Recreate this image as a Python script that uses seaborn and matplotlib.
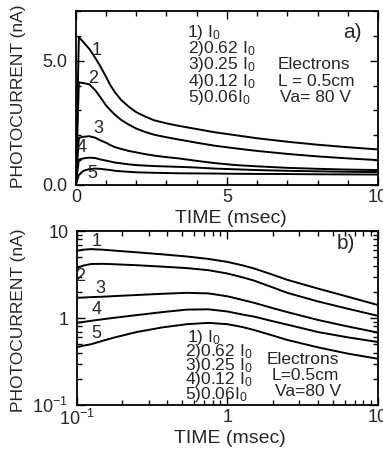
import matplotlib
matplotlib.use("Agg")
import matplotlib.pyplot as plt
from matplotlib import font_manager
from matplotlib.ticker import FixedLocator, FixedFormatter, MultipleLocator, LogLocator, NullFormatter
import seaborn as sns
import pandas as pd

# ---- panel a) linear time axis (msec) and photocurrents (nA) ----
t_lin = [0.0, 0.1, 0.25, 0.45, 0.65, 0.8, 1.0, 1.15, 1.3, 1.5, 1.75, 2.0, 2.3, 2.6,
         3.0, 3.4, 4.0, 4.6, 5.3, 6.0, 7.0, 8.0, 9.0, 10.0]
a_curve1 = [0.0, 5.95, 5.75, 5.47, 5.1, 4.8, 4.35, 4.0, 3.72, 3.42, 3.15, 2.93, 2.75, 2.6,
            2.48, 2.38, 2.25, 2.12, 2.0, 1.88, 1.74, 1.62, 1.52, 1.43]
a_curve2 = [0.0, 4.13, 4.1, 4.05, 3.8, 3.55, 3.2, 3.0, 2.82, 2.62, 2.43, 2.27, 2.13, 2.02,
            1.92, 1.83, 1.7, 1.58, 1.47, 1.37, 1.25, 1.15, 1.07, 1.0]
a_curve3 = [0.0, 1.9, 1.94, 1.96, 1.9, 1.8, 1.7, 1.6, 1.52, 1.45, 1.37, 1.31, 1.24, 1.18,
            1.12, 1.07, 0.97, 0.88, 0.8, 0.75, 0.69, 0.65, 0.62, 0.6]
a_curve4 = [0.0, 1.02, 1.07, 1.1, 1.08, 1.03, 0.98, 0.94, 0.9, 0.87, 0.83, 0.8, 0.78, 0.76,
            0.745, 0.73, 0.7, 0.66, 0.63, 0.6, 0.57, 0.55, 0.53, 0.52]
a_curve5 = [0.0, 0.4, 0.57, 0.64, 0.66, 0.65, 0.62, 0.6, 0.57, 0.55, 0.53, 0.51, 0.5, 0.49,
            0.48, 0.47, 0.465, 0.46, 0.45, 0.445, 0.44, 0.43, 0.425, 0.42]

# ---- panel b) log-log view ----
t_log = [0.1, 0.11, 0.125, 0.15, 0.18, 0.25, 0.37, 0.54, 0.75, 1.0, 1.25, 1.5, 2.0, 2.5,
         4.0, 6.3, 10.0]
b_curve1 = [5.93, 6.1, 6.2, 6.1, 5.95, 5.7, 5.4, 5.1, 4.78, 4.42, 4.05, 3.72, 3.15, 2.75,
            2.18, 1.76, 1.41]
b_curve2 = [3.73, 4.0, 4.18, 4.2, 4.15, 4.05, 3.9, 3.75, 3.55, 3.25, 2.95, 2.7, 2.25, 1.95,
            1.55, 1.28, 1.06]
b_curve3 = [1.71, 1.72, 1.74, 1.76, 1.79, 1.84, 1.9, 1.95, 1.92, 1.78, 1.62, 1.5, 1.3, 1.17,
            0.95, 0.8, 0.68]
b_curve4 = [0.88, 0.9, 0.93, 0.97, 1.01, 1.08, 1.17, 1.25, 1.26, 1.19, 1.1, 1.04, 0.92, 0.84,
            0.69, 0.6, 0.53]
b_curve5 = [0.46, 0.48, 0.5, 0.55, 0.6, 0.69, 0.78, 0.85, 0.88, 0.85, 0.79, 0.73, 0.63, 0.56,
            0.46, 0.39, 0.34]

intensity_labels = ["1) I$_0$", "2)0.62 I$_0$", "3)0.25 I$_0$", "4)0.12 I$_0$", "5)0.06I$_0$"]
conditions_a = ["Electrons", "L = 0.5cm", "Va= 80 V"]
conditions_b = ["Electrons", "L=0.5cm", "Va=80 V"]
x_label = "TIME (msec)"
y_label = "PHOTOCURRENT (nA)"

sns.set_style("ticks")
names = {f.name for f in font_manager.fontManager.ttflist}
base = "Liberation Sans" if "Liberation Sans" in names else "DejaVu Sans"
narrow = "Liberation Sans Narrow" if "Liberation Sans Narrow" in names else base
plt.rcParams["font.family"] = [base, "DejaVu Sans"]
plt.rcParams["mathtext.fontset"] = "custom"
plt.rcParams["mathtext.rm"] = base
plt.rcParams["mathtext.it"] = base
plt.rcParams["mathtext.default"] = "regular"

fig = plt.figure(figsize=(3.83, 4.59), dpi=100)
ax_a = fig.add_axes([0.198, 0.597, 0.789, 0.379])
ax_b = fig.add_axes([0.2, 0.1176, 0.787, 0.379])

lw = 1.4
for ys in [a_curve1, a_curve2, a_curve3, a_curve4, a_curve5]:
    df = pd.DataFrame({"t": t_lin, "i": ys})
    sns.lineplot(data=df, x="t", y="i", ax=ax_a, color="black", lw=lw,
                 estimator=None, sort=False)
for ys in [b_curve1, b_curve2, b_curve3, b_curve4, b_curve5]:
    df = pd.DataFrame({"t": t_log, "i": ys})
    sns.lineplot(data=df, x="t", y="i", ax=ax_b, color="black", lw=lw,
                 estimator=None, sort=False)

# ---- axes styling ----
for ax in (ax_a, ax_b):
    ax.set_xlabel("")
    ax.set_ylabel("")
    for sp in ax.spines.values():
        sp.set_linewidth(1.3)
        sp.set_color("black")
    ax.tick_params(which="both", direction="in", top=True, right=True,
                   color="black", width=1.0)
    ax.tick_params(which="major", length=6, labelsize=13)
    ax.tick_params(which="minor", length=3.5)
    ax.tick_params(axis="y", pad=6)
    ax.tick_params(axis="x", pad=3)

ax_a.set_xlim(0, 10)
ax_a.set_ylim(0, 7)
ax_a.xaxis.set_major_locator(FixedLocator([0, 5, 10]))
ax_a.xaxis.set_major_formatter(FixedFormatter(["0", "5", "10"]))
ax_a.xaxis.set_minor_locator(MultipleLocator(1))
ax_a.yaxis.set_major_locator(FixedLocator([0, 5]))
ax_a.yaxis.set_major_formatter(FixedFormatter(["0.0", "5.0"]))
ax_a.yaxis.set_minor_locator(MultipleLocator(1))

ax_b.set_xscale("log")
ax_b.set_yscale("log")
ax_b.set_xlim(0.1, 10)
ax_b.set_ylim(0.1, 10)
ax_b.xaxis.set_major_locator(FixedLocator([0.1, 1, 10]))
ax_b.xaxis.set_major_formatter(FixedFormatter(["10$^{-1}$", "1", "10"]))
ax_b.yaxis.set_major_locator(FixedLocator([0.1, 1, 10]))
ax_b.yaxis.set_major_formatter(FixedFormatter(["10$^{-1}$", "1", "10"]))
for axis in (ax_b.xaxis, ax_b.yaxis):
    axis.set_minor_locator(LogLocator(base=10, subs=range(2, 10)))
    axis.set_minor_formatter(NullFormatter())

# ---- curve numbers ----
num_fs = 13
for (x, y, s) in [(0.7, 5.4, "1"), (0.56, 4.28, "2"), (0.73, 2.28, "3"),
                  (0.2, 1.52, "4"), (0.56, 0.48, "5")]:
    ax_a.text(x, y, s, ha="center", va="center", fontsize=num_fs)
for (x, y, s) in [(0.136, 7.5, "1"), (0.105, 2.98, "2"), (0.143, 2.19, "3"),
                  (0.136, 1.24, "4"), (0.136, 0.67, "5")]:
    ax_b.text(x, y, s, ha="center", va="center", fontsize=num_fs)

# ---- intensity list and conditions ----
leg_fs = 12.5
ya = [0.879, 0.787, 0.69, 0.592, 0.5]
xa = [0.368, 0.371, 0.371, 0.371, 0.371]
for x, y, s in zip(xa, ya, intensity_labels):
    ax_a.text(x, y, s, transform=ax_a.transAxes, ha="left", va="center", fontsize=leg_fs)
for x, y, s in zip([0.669, 0.669, 0.675], [0.69, 0.592, 0.5], conditions_a):
    ax_a.text(x, y, s, transform=ax_a.transAxes, ha="left", va="center", fontsize=leg_fs)
ax_a.text(0.884, 0.879, "a)", transform=ax_a.transAxes, ha="left", va="center", fontsize=15)

yb = [0.391, 0.306, 0.23, 0.148, 0.063]
xb = [0.366, 0.36, 0.36, 0.36, 0.36]
for x, y, s in zip(xb, yb, intensity_labels):
    ax_b.text(x, y, s, transform=ax_b.transAxes, ha="left", va="center", fontsize=leg_fs)
for x, y, s in zip([0.632, 0.648, 0.658], [0.259, 0.172, 0.08], conditions_b):
    ax_b.text(x, y, s, transform=ax_b.transAxes, ha="left", va="center", fontsize=leg_fs)
ax_b.text(0.864, 0.931, "b)", transform=ax_b.transAxes, ha="left", va="center", fontsize=15)

# ---- axis titles ----
fig.text(0.047, 0.791, y_label, rotation=90, ha="center", va="center",
         fontsize=12.5, family=[narrow, "DejaVu Sans"])
fig.text(0.047, 0.303, y_label, rotation=90, ha="center", va="center",
         fontsize=12.5, family=[narrow, "DejaVu Sans"])
fig.text(0.603, 0.525, x_label, ha="center", va="center", fontsize=14)
fig.text(0.6, 0.044, x_label, ha="center", va="center", fontsize=14)

fig.savefig("out.png", dpi=100, facecolor="white")
